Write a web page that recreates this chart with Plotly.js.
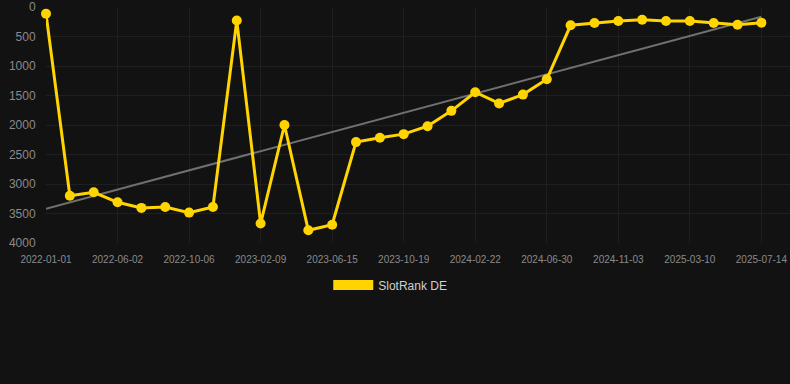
<!DOCTYPE html>
<html>
<head>
<meta charset="utf-8">
<script src="https://cdn.plot.ly/plotly-3.0.1.min.js"></script>
<style>
  html, body { margin: 0; padding: 0; background: #121212; }
  #chart { width: 790px; height: 384px; }
</style>
</head>
<body>
<div id="chart"></div>
<script>
// Dates of each observation (category axis)
const dates = [
  "2022-01-01", "2022-02-20", "2022-04-12",
  "2022-06-02", "2022-07-14", "2022-08-25",
  "2022-10-06", "2022-11-17", "2022-12-29",
  "2023-02-09", "2023-03-23", "2023-05-04",
  "2023-06-15", "2023-07-27", "2023-09-07",
  "2023-10-19", "2023-11-30", "2024-01-11",
  "2024-02-22", "2024-04-04", "2024-05-17",
  "2024-06-30", "2024-08-11", "2024-09-22",
  "2024-11-03", "2024-12-15", "2025-01-26",
  "2025-03-10", "2025-04-21", "2025-06-02",
  "2025-07-14"
];
// SlotRank DE values
const rankDE = [
  115, 3200, 3140,
  3310, 3405, 3390,
  3485, 3390, 230,
  3670, 2000, 3785,
  3690, 2290, 2215,
  2155, 2020, 1760,
  1445, 1635, 1485,
  1225, 310, 270,
  238, 215, 238,
  238, 270, 300,
  265
];
// Tick labels shown on the x axis
const tickDates = [
  "2022-01-01", "2022-06-02", "2022-10-06", "2023-02-09", "2023-06-15",
  "2023-10-19", "2024-02-22", "2024-06-30", "2024-11-03", "2025-03-10", "2025-07-14"
];
// Trend line endpoints
const trendDates = ["2022-01-01", "2025-07-14"];
const trendValues = [3420, 165];
const yTicks = [0, 500, 1000, 1500, 2000, 2500, 3000, 3500, 4000];

const yellow = "#FFD400";

const traces = [
  {
    x: trendDates, y: trendValues, type: "scatter", mode: "lines",
    line: { color: "#707070", width: 2 },
    hoverinfo: "skip", showlegend: false
  },
  {
    x: dates, y: rankDE, type: "scatter", mode: "lines+markers",
    name: "SlotRank DE",
    line: { color: yellow, width: 3 },
    marker: { color: yellow, size: 10 },
    cliponaxis: false,
    showlegend: false
  },
  {
    x: [null], y: [null], type: "scatter", mode: "lines",
    name: "SlotRank DE",
    line: { color: yellow, width: 11 },
    showlegend: true
  }
];

const layout = {
  width: 790, height: 384,
  paper_bgcolor: "#121212", plot_bgcolor: "#121212",
  margin: { l: 46, r: 0, t: 7, b: 141, pad: 0 },
  font: { family: "Liberation Sans, Arial, sans-serif", color: "#8a8a8a" },
  xaxis: {
    type: "category",
    categoryorder: "array",
    categoryarray: dates,
    range: [0, 31.2],
    tickmode: "array",
    tickvals: tickDates,
    ticktext: tickDates,
    tickangle: 0,
    tickfont: { size: 10, color: "#8a8a8a" },
    showgrid: true, gridcolor: "#1f1f1f", gridwidth: 1,
    zeroline: false, showline: false,
    ticks: "outside", ticklen: 7, tickcolor: "rgba(0,0,0,0)"
  },
  yaxis: {
    range: [4000, 0],
    tickmode: "array",
    tickvals: yTicks,
    ticktext: yTicks.map(String),
    tickfont: { size: 12, color: "#8a8a8a" },
    showgrid: true, gridcolor: "#1f1f1f", gridwidth: 1,
    zeroline: false, showline: false,
    ticks: "outside", ticklen: 7, tickcolor: "rgba(0,0,0,0)"
  },
  showlegend: true,
  legend: {
    orientation: "h",
    xref: "container", yref: "container",
    x: 0.494, xanchor: "center",
    y: 0.258, yanchor: "middle",
    font: { size: 12, color: "#d0d0d0" },
    itemwidth: 40,
    bgcolor: "rgba(0,0,0,0)"
  }
};

Plotly.newPlot("chart", traces, layout, { displayModeBar: false, staticPlot: true });
</script>
</body>
</html>
